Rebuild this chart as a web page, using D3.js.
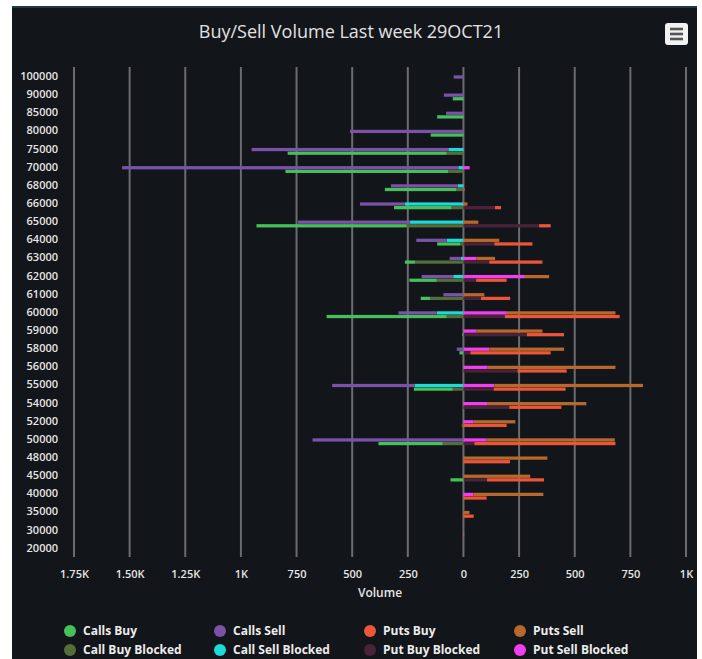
<!DOCTYPE html>
<html>
<head>
<meta charset="utf-8">
<script src="https://cdnjs.cloudflare.com/ajax/libs/d3/7.8.5/d3.min.js"></script>
<style>
  body { margin: 0; background: #fff; }
  svg { display: block; font-family: "Open Sans", "DejaVu Sans", sans-serif; }
</style>
</head>
<body>
<svg id="chart" width="702" height="659"></svg>
<script>
// strikes, top to bottom
var categories = ["100000","90000","85000","80000","75000","70000","68000","66000","65000",
  "64000","63000","62000","61000","60000","59000","58000","56000","55000","54000","52000",
  "50000","48000","45000","40000","35000","30000","20000"];

// volumes (calls are drawn to the left)
var callsBuy       = [0,48,118,147,715,732,322,259,675,104,45,123,42,540,5,18,0,175,0,0,289,0,58,0,0,0,0];
var callsSell      = [44,88,78,510,884,1511,301,202,503,137,50,142,90,172,0,30,0,370,0,0,678,0,0,0,0,0,0];
var putsBuy        = [0,0,0,0,0,0,5,27,52,171,239,137,131,516,167,361,221,323,234,194,634,209,256,104,46,3,0];
var putsSell       = [0,0,0,0,0,0,0,18,67,161,85,109,94,488,298,336,574,668,446,187,576,377,300,313,27,0,0];
var callBuyBlocked = [0,0,0,0,75,68,31,53,255,14,218,120,150,75,0,0,0,48,0,8,93,0,0,0,0,0,0];
var callSellBlocked= [0,0,0,0,68,23,25,263,240,75,12,46,0,120,0,0,0,220,0,0,0,0,0,0,0,0,0];
var putBuyBlocked  = [0,0,0,0,0,0,0,142,340,139,116,57,79,186,285,31,243,136,206,0,49,0,106,0,0,0,0];
var putSellBlocked = [0,0,0,0,0,28,0,0,0,0,57,276,0,195,57,116,109,139,106,46,104,0,0,46,0,0,0];

var xTicks = [-1750,-1500,-1250,-1000,-750,-500,-250,0,250,500,750,1000];

var seriesNames  = ["Calls Buy","Calls Sell","Puts Buy","Puts Sell",
  "Call Buy Blocked","Call Sell Blocked","Put Buy Blocked","Put Sell Blocked"];
var seriesColors = ["#46c058","#7a52a8","#ec5538","#b8682c",
  "#536e38","#1ed8da","#4c2238","#f23ef0"];

var W = 702, H = 659;
var plot = {left: 74, right: 686, top: 67, bottom: 557};

var svg = d3.select('#chart');

// panel
svg.append('rect').attr('x', 12).attr('y', 6).attr('width', 685).attr('height', H - 6)
  .attr('fill', '#121519');
svg.append('rect').attr('x', 12).attr('y', 6).attr('width', 685).attr('height', 2)
  .attr('fill', '#1f3b40');

svg.append('text')
  .attr('x', 351).attr('y', 38)
  .attr('text-anchor', 'middle')
  .attr('fill', '#e2e2e4')
  .style('font-size', '18px')
  .text('Buy/Sell Volume Last week 29OCT21');

// menu button
var menu = svg.append('g').attr('transform', 'translate(665,23)');
menu.append('rect').attr('width', 23).attr('height', 22).attr('rx', 3).attr('fill', '#f2f2f2');
[6, 11, 16].forEach(function (yy) {
  menu.append('rect').attr('x', 5).attr('y', yy - 1.3).attr('width', 13).attr('height', 2.6)
    .attr('fill', '#555');
});

var x = d3.scaleLinear().domain([-1750, 1000]).range([plot.left, plot.right]);
var y = d3.scaleBand().domain(categories).range([plot.top, plot.bottom]);
var sub = d3.scaleBand().domain(['sell', 'buy'])
  .range([y.bandwidth() * 0.46, y.bandwidth() * 0.84]).paddingInner(0.1);

// grid lines
svg.append('g').selectAll('line').data(xTicks).join('line')
  .attr('x1', d => x(d)).attr('x2', d => x(d))
  .attr('y1', plot.top).attr('y2', plot.bottom)
  .attr('stroke', '#6c6c70').attr('stroke-width', 2);

var fmt = function (d) {
  var v = Math.abs(d);
  if (v >= 1000) return (v % 1000 === 0 ? v / 1000 : (v / 1000).toFixed(2)) + 'K';
  return String(v);
};

var xAxis = svg.append('g')
  .attr('transform', 'translate(0,' + plot.bottom + ')')
  .call(d3.axisBottom(x).tickValues(xTicks).tickFormat(fmt).tickSize(0).tickPadding(13));
xAxis.select('.domain').remove();
xAxis.selectAll('text').attr('fill', '#e6e6e6')
  .style('font-size', '11px').style('font-weight', '600')
  .style('font-family', '"Open Sans", sans-serif');

var yAxis = svg.append('g')
  .attr('transform', 'translate(' + (plot.left - 16) + ',0)')
  .call(d3.axisLeft(y).tickSize(0).tickPadding(0));
yAxis.select('.domain').remove();
yAxis.selectAll('text').attr('fill', '#e6e6e6').attr('dy', '0.35em')
  .style('font-size', '11px').style('font-weight', '600')
  .style('font-family', '"Open Sans", sans-serif');

svg.append('text')
  .attr('x', (plot.left + plot.right) / 2).attr('y', 597)
  .attr('text-anchor', 'middle').attr('fill', '#e6e6e6')
  .style('font-size', '12px').style('font-weight', '600')
  .text('Volume');

// stacks: blocked series sit next to zero, calls go left, puts go right
var rows = categories.map(function (c, i) {
  return {
    cat: c,
    'Calls Buy': -callsBuy[i], 'Calls Sell': -callsSell[i],
    'Puts Buy': putsBuy[i], 'Puts Sell': putsSell[i],
    'Call Buy Blocked': -callBuyBlocked[i], 'Call Sell Blocked': -callSellBlocked[i],
    'Put Buy Blocked': putBuyBlocked[i], 'Put Sell Blocked': putSellBlocked[i]
  };
});

var groups = {
  buy: ['Call Buy Blocked', 'Put Buy Blocked', 'Calls Buy', 'Puts Buy'],
  sell: ['Call Sell Blocked', 'Put Sell Blocked', 'Calls Sell', 'Puts Sell']
};

var color = d3.scaleOrdinal().domain(seriesNames).range(seriesColors);

Object.keys(groups).forEach(function (g) {
  var stacked = d3.stack().keys(groups[g]).offset(d3.stackOffsetDiverging)(rows);
  svg.append('g').selectAll('g').data(stacked).join('g')
    .attr('fill', d => color(d.key))
    .selectAll('rect').data(d => d).join('rect')
    .attr('x', d => x(Math.min(d[0], d[1])))
    .attr('width', d => Math.abs(x(d[1]) - x(d[0])))
    .attr('y', d => y(d.data.cat) + sub(g))
    .attr('height', sub.bandwidth());
});

// legend
var legend = svg.append('g');
var cols = [70, 220, 370, 520];
seriesNames.forEach(function (name, i) {
  var cx = cols[i % 4], cy = i < 4 ? 631 : 650;
  legend.append('circle').attr('cx', cx).attr('cy', cy).attr('r', 6).attr('fill', color(name));
  legend.append('text').attr('x', cx + 13).attr('y', cy).attr('dy', '0.35em')
    .attr('fill', '#ececec')
    .style('font-size', '12px').style('font-weight', '700')
    .text(name);
});
</script>
</body>
</html>
